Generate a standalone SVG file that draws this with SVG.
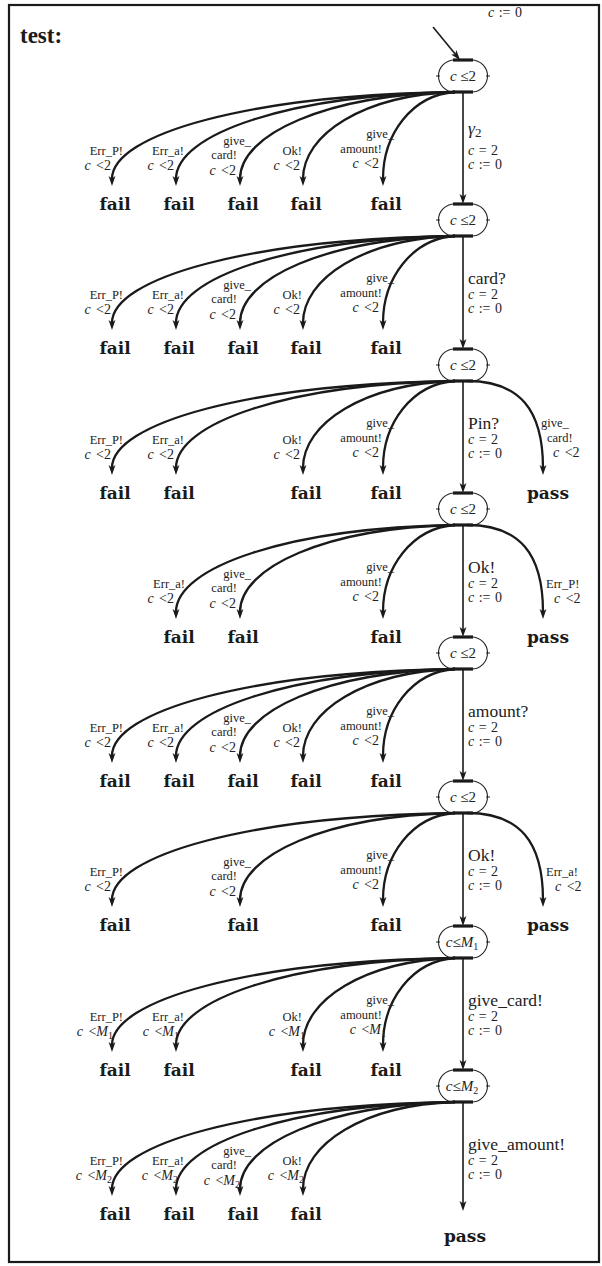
<svg xmlns="http://www.w3.org/2000/svg" width="602" height="1266" viewBox="0 0 602 1266">
<style>
text{font-family:"Liberation Serif","Times New Roman",serif;fill:#222}
.frame{fill:none;stroke:#1a1a1a;stroke-width:2.2}
.loc{fill:#fff;stroke:#222;stroke-width:1.1}
.bar{stroke:#1a1a1a;stroke-width:3.2}
.tick{stroke:#222;stroke-width:1}
.nl{font-size:15px;text-anchor:middle}
.e{fill:none;stroke:#1a1a1a;stroke-width:2.3;marker-end:url(#ah)}
.s{fill:none;stroke:#1a1a1a;stroke-width:1.6;marker-end:url(#ah)}
.act{font-size:17.5px}
.m{font-size:14px;word-spacing:1px}
.sa{font-size:12.5px;text-anchor:end}
.sg{font-size:14px;text-anchor:end;word-spacing:2px}
.ra{font-size:12.5px}
.rg{font-size:14px;word-spacing:2px}
.i{font-style:italic}
.sub{font-size:10px}
.v{font-family:"DejaVu Serif",serif;font-weight:bold;font-size:17px;text-anchor:middle;fill:#1a1a1a}
.title{font-size:23px;font-weight:bold;fill:#1a1a1a}
</style>
<defs>
<marker id="ah" markerUnits="userSpaceOnUse" markerWidth="14" markerHeight="10" viewBox="-4 -5 14 10" refX="0" refY="0" orient="auto" overflow="visible">
<path d="M7,0 L-3,-3.4 L-0.6,0 L-3,3.4 Z" fill="#1a1a1a"/>
</marker>
</defs>

<rect class="frame" x="9" y="5" width="590" height="1257"/>
<text class="title" x="20" y="43">test:</text>

<!-- locations on the main path -->
<g id="loc1"><rect class="loc" x="438.5" y="60" width="49" height="32" rx="16"/><line class="bar" x1="453" y1="60" x2="473" y2="60"/><line class="bar" x1="453" y1="92" x2="473" y2="92"/><line class="tick" x1="436" y1="76" x2="440" y2="76"/><line class="tick" x1="486" y1="76" x2="490" y2="76"/><text class="nl" x="463" y="81"><tspan class="i">c</tspan> ≤2</text></g>
<g id="loc2"><rect class="loc" x="438.5" y="204" width="49" height="32" rx="16"/><line class="bar" x1="453" y1="204" x2="473" y2="204"/><line class="bar" x1="453" y1="236" x2="473" y2="236"/><line class="tick" x1="436" y1="220" x2="440" y2="220"/><line class="tick" x1="486" y1="220" x2="490" y2="220"/><text class="nl" x="463" y="225"><tspan class="i">c</tspan> ≤2</text></g>
<g id="loc3"><rect class="loc" x="438.5" y="349" width="49" height="32" rx="16"/><line class="bar" x1="453" y1="349" x2="473" y2="349"/><line class="bar" x1="453" y1="381" x2="473" y2="381"/><line class="tick" x1="436" y1="365" x2="440" y2="365"/><line class="tick" x1="486" y1="365" x2="490" y2="365"/><text class="nl" x="463" y="370"><tspan class="i">c</tspan> ≤2</text></g>
<g id="loc4"><rect class="loc" x="438.5" y="493" width="49" height="32" rx="16"/><line class="bar" x1="453" y1="493" x2="473" y2="493"/><line class="bar" x1="453" y1="525" x2="473" y2="525"/><line class="tick" x1="436" y1="509" x2="440" y2="509"/><line class="tick" x1="486" y1="509" x2="490" y2="509"/><text class="nl" x="463" y="514"><tspan class="i">c</tspan> ≤2</text></g>
<g id="loc5"><rect class="loc" x="438.5" y="637" width="49" height="32" rx="16"/><line class="bar" x1="453" y1="637" x2="473" y2="637"/><line class="bar" x1="453" y1="669" x2="473" y2="669"/><line class="tick" x1="436" y1="653" x2="440" y2="653"/><line class="tick" x1="486" y1="653" x2="490" y2="653"/><text class="nl" x="463" y="658"><tspan class="i">c</tspan> ≤2</text></g>
<g id="loc6"><rect class="loc" x="438.5" y="781" width="49" height="32" rx="16"/><line class="bar" x1="453" y1="781" x2="473" y2="781"/><line class="bar" x1="453" y1="813" x2="473" y2="813"/><line class="tick" x1="436" y1="797" x2="440" y2="797"/><line class="tick" x1="486" y1="797" x2="490" y2="797"/><text class="nl" x="463" y="802"><tspan class="i">c</tspan> ≤2</text></g>
<g id="loc7"><rect class="loc" x="438.5" y="926" width="49" height="32" rx="16"/><line class="bar" x1="453" y1="926" x2="473" y2="926"/><line class="bar" x1="453" y1="958" x2="473" y2="958"/><line class="tick" x1="436" y1="942" x2="440" y2="942"/><line class="tick" x1="486" y1="942" x2="490" y2="942"/><text class="nl" x="462" y="947"><tspan class="i">c</tspan>≤<tspan class="i">M</tspan><tspan class="sub" dy="3">1</tspan></text></g>
<g id="loc8"><rect class="loc" x="438.5" y="1070" width="49" height="32" rx="16"/><line class="bar" x1="453" y1="1070" x2="473" y2="1070"/><line class="bar" x1="453" y1="1102" x2="473" y2="1102"/><line class="tick" x1="436" y1="1086" x2="440" y2="1086"/><line class="tick" x1="486" y1="1086" x2="490" y2="1086"/><text class="nl" x="462" y="1091"><tspan class="i">c</tspan>≤<tspan class="i">M</tspan><tspan class="sub" dy="3">2</tspan></text></g>

<!-- verdict nodes -->
<g id="r1-fail1"><text class="v" x="115" y="210">fail</text></g>
<g id="r1-fail2"><text class="v" x="179" y="210">fail</text></g>
<g id="r1-fail3"><text class="v" x="243" y="210">fail</text></g>
<g id="r1-fail4"><text class="v" x="306" y="210">fail</text></g>
<g id="r1-fail5"><text class="v" x="386" y="210">fail</text></g>

<g id="r2-fail1"><text class="v" x="115" y="354">fail</text></g>
<g id="r2-fail2"><text class="v" x="179" y="354">fail</text></g>
<g id="r2-fail3"><text class="v" x="243" y="354">fail</text></g>
<g id="r2-fail4"><text class="v" x="306" y="354">fail</text></g>
<g id="r2-fail5"><text class="v" x="386" y="354">fail</text></g>

<g id="r3-fail1"><text class="v" x="115" y="499">fail</text></g>
<g id="r3-fail2"><text class="v" x="179" y="499">fail</text></g>
<g id="r3-fail4"><text class="v" x="306" y="499">fail</text></g>
<g id="r3-fail5"><text class="v" x="386" y="499">fail</text></g>
<g id="r3-pass"><text class="v" x="548" y="499">pass</text></g>

<g id="r4-fail2"><text class="v" x="179" y="643">fail</text></g>
<g id="r4-fail3"><text class="v" x="243" y="643">fail</text></g>
<g id="r4-fail5"><text class="v" x="386" y="643">fail</text></g>
<g id="r4-pass"><text class="v" x="548" y="643">pass</text></g>

<g id="r5-fail1"><text class="v" x="115" y="787">fail</text></g>
<g id="r5-fail2"><text class="v" x="179" y="787">fail</text></g>
<g id="r5-fail3"><text class="v" x="243" y="787">fail</text></g>
<g id="r5-fail4"><text class="v" x="306" y="787">fail</text></g>
<g id="r5-fail5"><text class="v" x="386" y="787">fail</text></g>

<g id="r6-fail1"><text class="v" x="115" y="931">fail</text></g>
<g id="r6-fail3"><text class="v" x="243" y="931">fail</text></g>
<g id="r6-fail5"><text class="v" x="386" y="931">fail</text></g>
<g id="r6-pass"><text class="v" x="548" y="931">pass</text></g>

<g id="r7-fail1"><text class="v" x="115" y="1076">fail</text></g>
<g id="r7-fail2"><text class="v" x="179" y="1076">fail</text></g>
<g id="r7-fail4"><text class="v" x="306" y="1076">fail</text></g>
<g id="r7-fail5"><text class="v" x="386" y="1076">fail</text></g>

<g id="r8-fail1"><text class="v" x="115" y="1220">fail</text></g>
<g id="r8-fail2"><text class="v" x="179" y="1220">fail</text></g>
<g id="r8-fail3"><text class="v" x="243" y="1220">fail</text></g>
<g id="r8-fail4"><text class="v" x="306" y="1220">fail</text></g>
<g id="end-pass"><text class="v" x="465" y="1242">pass</text></g>

<!-- transitions -->
<g id="connectors">
<!-- initial -->
<line class="s" x1="433" y1="27" x2="455.6" y2="54.6"/>
<text class="m" x="488" y="17"><tspan class="i">c</tspan> := 0</text>

<!-- main path -->
<line class="s" x1="463" y1="92" x2="463" y2="197"/>
<line class="s" x1="463" y1="236" x2="463" y2="342"/>
<line class="s" x1="463" y1="381" x2="463" y2="486"/>
<line class="s" x1="463" y1="525" x2="463" y2="630"/>
<line class="s" x1="463" y1="669" x2="463" y2="774"/>
<line class="s" x1="463" y1="813" x2="463" y2="919"/>
<line class="s" x1="463" y1="958" x2="463" y2="1063"/>
<line class="s" x1="463" y1="1102" x2="463" y2="1204"/>

<text class="act" x="468" y="134" font-size="19px"><tspan class="i">γ</tspan><tspan font-size="13px" dy="3">2</tspan></text>
<text class="m" x="468" y="155"><tspan class="i">c</tspan> = 2</text>
<text class="m" x="468" y="169"><tspan class="i">c</tspan> := 0</text>

<text class="act" x="468" y="284">card?</text>
<text class="m" x="468" y="299"><tspan class="i">c</tspan> = 2</text>
<text class="m" x="468" y="313"><tspan class="i">c</tspan> := 0</text>

<text class="act" x="468" y="429">Pin?</text>
<text class="m" x="468" y="444"><tspan class="i">c</tspan> = 2</text>
<text class="m" x="468" y="458"><tspan class="i">c</tspan> := 0</text>

<text class="act" x="468" y="573">Ok!</text>
<text class="m" x="468" y="588"><tspan class="i">c</tspan> = 2</text>
<text class="m" x="468" y="602"><tspan class="i">c</tspan> := 0</text>

<text class="act" x="468" y="717">amount?</text>
<text class="m" x="468" y="732"><tspan class="i">c</tspan> = 2</text>
<text class="m" x="468" y="746"><tspan class="i">c</tspan> := 0</text>

<text class="act" x="468" y="861">Ok!</text>
<text class="m" x="468" y="876"><tspan class="i">c</tspan> = 2</text>
<text class="m" x="468" y="890"><tspan class="i">c</tspan> := 0</text>

<text class="act" x="468" y="1006">give_card!</text>
<text class="m" x="468" y="1021"><tspan class="i">c</tspan> = 2</text>
<text class="m" x="468" y="1035"><tspan class="i">c</tspan> := 0</text>

<text class="act" x="468" y="1150">give_amount!</text>
<text class="m" x="468" y="1165"><tspan class="i">c</tspan> = 2</text>
<text class="m" x="468" y="1179"><tspan class="i">c</tspan> := 0</text>

<!-- row 1 -->
<path class="e" d="M455 92 C249 95 112 134 112 179"/>
<path class="e" d="M455 92 C288 95 176 134 176 179"/>
<path class="e" d="M455 92 C326 95 240 134 240 179"/>
<path class="e" d="M455 92 C364 95 303 134 303 179"/>
<path class="e" d="M455 92 C412 95 383 134 383 179"/>
<text class="sa" x="123" y="155">Err_P!</text><text class="sg" x="111" y="170"><tspan class="i">c</tspan> &lt;2</text>
<text class="sa" x="184" y="155">Err_a!</text><text class="sg" x="174" y="170"><tspan class="i">c</tspan> &lt;2</text>
<text class="sa" x="251" y="145">give_</text><text class="sa" x="237" y="159">card!</text><text class="sg" x="236" y="175"><tspan class="i">c</tspan> &lt;2</text>
<text class="sa" x="302" y="155">Ok!</text><text class="sg" x="300" y="170"><tspan class="i">c</tspan> &lt;2</text>
<text class="sa" x="394" y="138">give_</text><text class="sa" x="382" y="153">amount!</text><text class="sg" x="379" y="168"><tspan class="i">c</tspan> &lt;2</text>

<!-- row 2 -->
<path class="e" d="M455 236 C249 239 112 278 112 323"/>
<path class="e" d="M455 236 C288 239 176 278 176 323"/>
<path class="e" d="M455 236 C326 239 240 278 240 323"/>
<path class="e" d="M455 236 C364 239 303 278 303 323"/>
<path class="e" d="M455 236 C412 239 383 278 383 323"/>
<text class="sa" x="123" y="299">Err_P!</text><text class="sg" x="111" y="314"><tspan class="i">c</tspan> &lt;2</text>
<text class="sa" x="184" y="299">Err_a!</text><text class="sg" x="174" y="314"><tspan class="i">c</tspan> &lt;2</text>
<text class="sa" x="251" y="289">give_</text><text class="sa" x="237" y="303">card!</text><text class="sg" x="236" y="319"><tspan class="i">c</tspan> &lt;2</text>
<text class="sa" x="302" y="299">Ok!</text><text class="sg" x="300" y="314"><tspan class="i">c</tspan> &lt;2</text>
<text class="sa" x="394" y="282">give_</text><text class="sa" x="382" y="297">amount!</text><text class="sg" x="379" y="312"><tspan class="i">c</tspan> &lt;2</text>

<!-- row 3 -->
<path class="e" d="M455 381 C249 384 112 423 112 468"/>
<path class="e" d="M455 381 C288 384 176 423 176 468"/>
<path class="e" d="M455 381 C364 384 303 423 303 468"/>
<path class="e" d="M455 381 C412 384 383 423 383 468"/>
<path class="e" d="M467 381 C520 381 543 410 543 468"/>
<text class="sa" x="123" y="444">Err_P!</text><text class="sg" x="111" y="459"><tspan class="i">c</tspan> &lt;2</text>
<text class="sa" x="184" y="444">Err_a!</text><text class="sg" x="174" y="459"><tspan class="i">c</tspan> &lt;2</text>
<text class="sa" x="302" y="444">Ok!</text><text class="sg" x="300" y="459"><tspan class="i">c</tspan> &lt;2</text>
<text class="sa" x="394" y="427">give_</text><text class="sa" x="382" y="442">amount!</text><text class="sg" x="379" y="457"><tspan class="i">c</tspan> &lt;2</text>
<text class="ra" x="541" y="427">give_</text><text class="ra" x="547" y="442">card!</text><text class="rg" x="553" y="457"><tspan class="i">c</tspan> &lt;2</text>

<!-- row 4 -->
<path class="e" d="M455 525 C288 528 176 567 176 612"/>
<path class="e" d="M455 525 C326 528 240 567 240 612"/>
<path class="e" d="M455 525 C412 528 383 567 383 612"/>
<path class="e" d="M467 525 C520 525 543 554 543 612"/>
<text class="sa" x="185" y="588">Err_a!</text><text class="sg" x="174" y="603"><tspan class="i">c</tspan> &lt;2</text>
<text class="sa" x="251" y="578">give_</text><text class="sa" x="237" y="592">card!</text><text class="sg" x="236" y="608"><tspan class="i">c</tspan> &lt;2</text>
<text class="sa" x="394" y="571">give_</text><text class="sa" x="382" y="586">amount!</text><text class="sg" x="379" y="601"><tspan class="i">c</tspan> &lt;2</text>
<text class="ra" x="546" y="588">Err_P!</text><text class="rg" x="554" y="603"><tspan class="i">c</tspan> &lt;2</text>

<!-- row 5 -->
<path class="e" d="M455 669 C249 672 112 711 112 756"/>
<path class="e" d="M455 669 C288 672 176 711 176 756"/>
<path class="e" d="M455 669 C326 672 240 711 240 756"/>
<path class="e" d="M455 669 C364 672 303 711 303 756"/>
<path class="e" d="M455 669 C412 672 383 711 383 756"/>
<text class="sa" x="123" y="732">Err_P!</text><text class="sg" x="111" y="747"><tspan class="i">c</tspan> &lt;2</text>
<text class="sa" x="184" y="732">Err_a!</text><text class="sg" x="174" y="747"><tspan class="i">c</tspan> &lt;2</text>
<text class="sa" x="251" y="722">give_</text><text class="sa" x="237" y="736">card!</text><text class="sg" x="236" y="752"><tspan class="i">c</tspan> &lt;2</text>
<text class="sa" x="302" y="732">Ok!</text><text class="sg" x="300" y="747"><tspan class="i">c</tspan> &lt;2</text>
<text class="sa" x="394" y="715">give_</text><text class="sa" x="382" y="730">amount!</text><text class="sg" x="379" y="745"><tspan class="i">c</tspan> &lt;2</text>

<!-- row 6 -->
<path class="e" d="M455 813 C249 816 112 855 112 900"/>
<path class="e" d="M455 813 C326 816 240 855 240 900"/>
<path class="e" d="M455 813 C412 816 383 855 383 900"/>
<path class="e" d="M467 813 C520 813 543 842 543 900"/>
<text class="sa" x="123" y="876">Err_P!</text><text class="sg" x="111" y="891"><tspan class="i">c</tspan> &lt;2</text>
<text class="sa" x="251" y="866">give_</text><text class="sa" x="237" y="880">card!</text><text class="sg" x="236" y="896"><tspan class="i">c</tspan> &lt;2</text>
<text class="sa" x="394" y="859">give_</text><text class="sa" x="382" y="874">amount!</text><text class="sg" x="379" y="889"><tspan class="i">c</tspan> &lt;2</text>
<text class="ra" x="546" y="876">Err_a!</text><text class="rg" x="555" y="891"><tspan class="i">c</tspan> &lt;2</text>

<!-- row 7 -->
<path class="e" d="M455 958 C249 961 112 1000 112 1045"/>
<path class="e" d="M455 958 C288 961 176 1000 176 1045"/>
<path class="e" d="M455 958 C364 961 303 1000 303 1045"/>
<path class="e" d="M455 958 C412 961 383 1000 383 1045"/>
<text class="sa" x="123" y="1021">Err_P!</text><text class="sg" x="113" y="1036"><tspan class="i">c</tspan> &lt;<tspan class="i">M</tspan><tspan class="sub" dy="3">1</tspan></text>
<text class="sa" x="184" y="1021">Err_a!</text><text class="sg" x="179" y="1036"><tspan class="i">c</tspan> &lt;<tspan class="i">M</tspan><tspan class="sub" dy="3">1</tspan></text>
<text class="sa" x="302" y="1021">Ok!</text><text class="sg" x="305" y="1036"><tspan class="i">c</tspan> &lt;<tspan class="i">M</tspan><tspan class="sub" dy="3">1</tspan></text>
<text class="sa" x="394" y="1004">give_</text><text class="sa" x="382" y="1019">amount!</text><text class="sg" x="386" y="1034"><tspan class="i">c</tspan> &lt;<tspan class="i">M</tspan><tspan class="sub" dy="3">1</tspan></text>

<!-- row 8 -->
<path class="e" d="M455 1102 C249 1105 112 1144 112 1189"/>
<path class="e" d="M455 1102 C288 1105 176 1144 176 1189"/>
<path class="e" d="M455 1102 C326 1105 240 1144 240 1189"/>
<path class="e" d="M455 1102 C364 1105 303 1144 303 1189"/>
<text class="sa" x="123" y="1165">Err_P!</text><text class="sg" x="112" y="1180"><tspan class="i">c</tspan> &lt;<tspan class="i">M</tspan><tspan class="sub" dy="3">2</tspan></text>
<text class="sa" x="184" y="1165">Err_a!</text><text class="sg" x="178" y="1180"><tspan class="i">c</tspan> &lt;<tspan class="i">M</tspan><tspan class="sub" dy="3">2</tspan></text>
<text class="sa" x="251" y="1155">give_</text><text class="sa" x="237" y="1169">card!</text><text class="sg" x="240" y="1185"><tspan class="i">c</tspan> &lt;<tspan class="i">M</tspan><tspan class="sub" dy="3">2</tspan></text>
<text class="sa" x="302" y="1165">Ok!</text><text class="sg" x="304" y="1180"><tspan class="i">c</tspan> &lt;<tspan class="i">M</tspan><tspan class="sub" dy="3">2</tspan></text>
</g>
</svg>
